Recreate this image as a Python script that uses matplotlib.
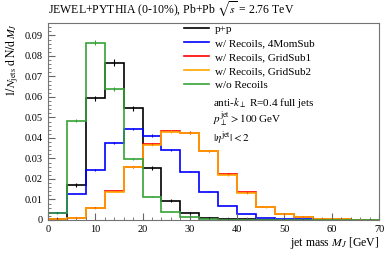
import numpy as np
import matplotlib
matplotlib.use("Agg")
import matplotlib.pyplot as plt
from matplotlib.ticker import MultipleLocator

plt.rcParams["font.family"] = ["Liberation Serif", "DejaVu Serif"]
plt.rcParams["mathtext.fontset"] = "stix"

# bin edges in jet mass [GeV]
edges = np.arange(0, 76, 4)

pp = [0.0005, 0.0171, 0.0594, 0.0767, 0.0545, 0.0252, 0.0093, 0.0036, 0.0011,
      0.0006, 0.0003, 0.0001, 0.0001, 0.0, 0.0, 0.0, 0.0, 0.0]
rec_4mom = [0.0035, 0.0127, 0.0244, 0.0374, 0.0444, 0.0411, 0.0343, 0.0236, 0.0138,
            0.0068, 0.0029, 0.0011, 0.0006, 0.0003, 0.0001, 0.0001, 0.0, 0.0]
rec_grid1 = [0.0004, 0.0012, 0.0059, 0.0141, 0.0259, 0.0371, 0.0434, 0.0426, 0.0338,
             0.0224, 0.0134, 0.0063, 0.0029, 0.0015, 0.0006, 0.0003, 0.0002, 0.0001]
rec_grid2 = [0.0004, 0.0011, 0.0057, 0.0138, 0.0257, 0.0366, 0.0431, 0.0424, 0.0337,
             0.0220, 0.0130, 0.0062, 0.0028, 0.0015, 0.0006, 0.0003, 0.0002, 0.0001]
no_rec = [0.0032, 0.0483, 0.0865, 0.0638, 0.0296, 0.0114, 0.0041, 0.0016, 0.0005,
          0.0002, 0.0001, 0.0001, 0.0, 0.0, 0.0, 0.0, 0.0, 0.0]

pp_err = [0.0003, 0.0008, 0.0012, 0.0018, 0.0012, 0.0010, 0.0007, 0.0005, 0.0003,
          0.0002, 0.0001, 0.0001, 0.0, 0.0, 0.0, 0.0, 0.0, 0.0]

series = [
    ("p+p", pp, "black"),
    ("w/ Recoils, 4MomSub", rec_4mom, "#0000ff"),
    ("w/ Recoils, GridSub1", rec_grid1, "#ff0000"),
    ("w/ Recoils, GridSub2", rec_grid2, "#ffa500"),
    ("w/o Recoils", no_rec, "#36a336"),
]

fig = plt.figure(figsize=(3.9, 2.54), dpi=100)
ax = fig.add_axes([0.123, 0.134, 0.849, 0.775])

centers = 0.5 * (edges[:-1] + edges[1:])
for label, vals, col in series:
    vals = np.array(vals)
    ax.stairs(vals, edges, color=col, lw=1.2, label=label)
    err = np.array(pp_err) if label == "p+p" else np.maximum(vals * 0.015, 0.0002)
    ax.errorbar(centers, vals, yerr=err, fmt="none", ecolor=col, elinewidth=0.8)

ax.set_xlim(0, 70)
ax.set_ylim(0, 0.096)
ax.xaxis.set_major_locator(MultipleLocator(10))
ax.xaxis.set_minor_locator(MultipleLocator(2))
ax.yaxis.set_major_locator(MultipleLocator(0.01))
ax.yaxis.set_minor_locator(MultipleLocator(0.002))
ax.yaxis.set_major_formatter(plt.FuncFormatter(lambda v, p: "0" if v == 0 else f"{v:.2f}"))
ax.tick_params(which="both", direction="in", labelsize=7.5, colors="0.4", labelcolor="black")
ax.tick_params(which="major", length=5)
ax.tick_params(which="minor", length=2.5)
for s in ax.spines.values():
    s.set_color("0.45")

ax.set_xlabel(r"jet mass $M_J$ [GeV]", fontsize=8.5, loc="right", labelpad=1)
ax.set_ylabel(r"$1/N_{\mathrm{jets}}\ \mathrm{d}\,\mathrm{N}/\mathrm{d}\,M_J$", fontsize=8.5, loc="top", labelpad=3)

fig.text(0.123, 0.93, r"JEWEL+PYTHIA (0-10%), Pb+Pb $\sqrt{s}$ = 2.76 TeV", fontsize=8.5, ha="left", va="bottom")

leg = ax.legend(loc="upper left", bbox_to_anchor=(0.408, 1.0), frameon=False, fontsize=8,
                handlelength=2.2, handletextpad=0.55, labelspacing=0.38, borderaxespad=0, borderpad=0.1)
ax.text(0.498, 0.580, r"anti-$k_\perp$ R=0.4 full jets", transform=ax.transAxes, fontsize=8, va="baseline")
ax.text(0.498, 0.492, r"$p_\perp^{\mathrm{jet}} > 100$ GeV", transform=ax.transAxes, fontsize=8, va="baseline")
ax.text(0.498, 0.398, r"$|\eta^{\mathrm{jet}}| < 2$", transform=ax.transAxes, fontsize=8, va="baseline")

fig.savefig("out.png", dpi=100)
